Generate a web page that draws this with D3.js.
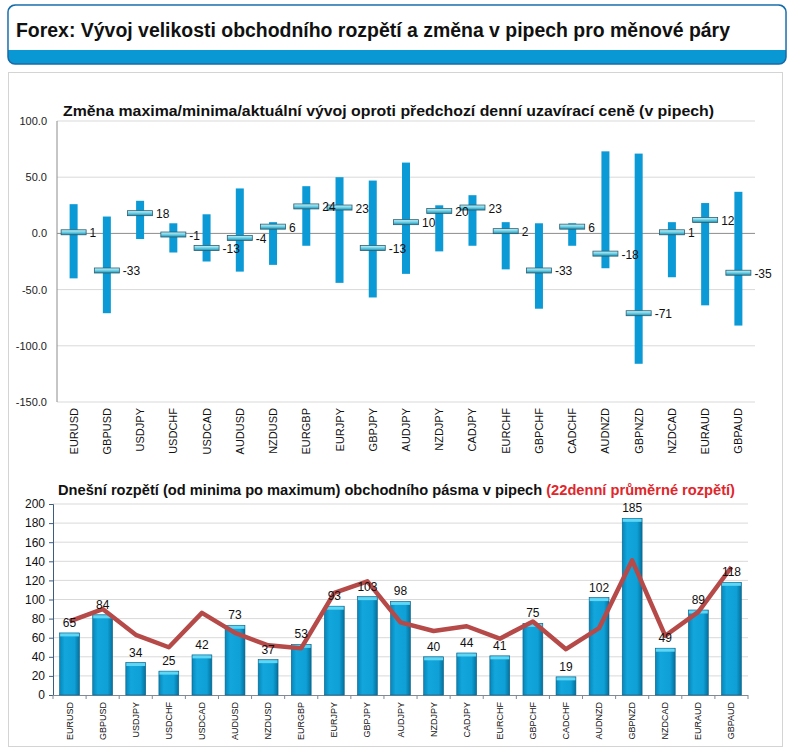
<!DOCTYPE html>
<html>
<head>
<meta charset="utf-8">
<script src="https://cdn.jsdelivr.net/npm/d3@7"></script>
<style>
  body { margin: 0; background: #fff; }
  svg { display: block; font-family: "Liberation Sans", Arial, sans-serif; }
</style>
</head>
<body>
<svg id="chart" width="796" height="749"></svg>
<script>
const pairs = ["EURUSD","GBPUSD","USDJPY","USDCHF","USDCAD","AUDUSD","NZDUSD","EURGBP","EURJPY","GBPJPY","AUDJPY","NZDJPY","CADJPY","EURCHF","GBPCHF","CADCHF","AUDNZD","GBPNZD","NZDCAD","EURAUD","GBPAUD"];

// top chart: change vs previous close (pips)
const maxChange = [26, 15, 29, 9, 17, 40, 10, 42, 50, 47, 63, 25, 34, 10, 9, 9, 73, 71, 10, 27, 37];
const minChange = [-40, -71, -5, -17, -25, -34, -28, -11, -44, -57, -36, -16, -11, -32, -67, -11, -31, -116, -39, -64, -82];
const curChange = [1, -33, 18, -1, -13, -4, 6, 24, 23, -13, 10, 20, 23, 2, -33, 6, -18, -71, 1, 12, -35];
const topTicks = [100, 50, 0, -50, -100, -150];

// bottom chart: today's range and 22-day average range
const todayRange = [65, 84, 34, 25, 42, 73, 37, 53, 93, 103, 98, 40, 44, 41, 75, 19, 102, 185, 49, 89, 118];
const avgRange = [77, 90, 63, 50, 86, 65, 52, 49, 107, 119, 76, 67, 72, 59, 77, 48, 70, 141, 62, 87, 134];
const bottomTicks = [0, 20, 40, 60, 80, 100, 120, 140, 160, 180, 200];

const svg = d3.select("#chart");
const defs = svg.append("defs");

const mg = defs.append("linearGradient").attr("id", "markerGrad").attr("x1", 0).attr("y1", 0).attr("x2", 0).attr("y2", 1);
mg.append("stop").attr("offset", "0%").attr("stop-color", "#c8f4fa");
mg.append("stop").attr("offset", "50%").attr("stop-color", "#6fd0e6");
mg.append("stop").attr("offset", "100%").attr("stop-color", "#1e8fb0");

const bg = defs.append("linearGradient").attr("id", "barGrad").attr("x1", 0).attr("y1", 0).attr("x2", 1).attr("y2", 0);
bg.append("stop").attr("offset", "0%").attr("stop-color", "#0786b8");
bg.append("stop").attr("offset", "25%").attr("stop-color", "#12a6dc");
bg.append("stop").attr("offset", "75%").attr("stop-color", "#0ea0d6");
bg.append("stop").attr("offset", "100%").attr("stop-color", "#05709c");

// header box
svg.append("rect").attr("x", 8).attr("y", 5).attr("width", 778).attr("height", 59)
  .attr("rx", 7).attr("fill", "#0998d3").attr("stroke", "#1b6aa6").attr("stroke-width", 1.5);
svg.append("path").attr("d", "M8.75,50 V12 a7,7 0 0 1 7,-6.25 H778.25 a7,7 0 0 1 7,6.25 V50 Z").attr("fill", "#fff");
svg.append("text").attr("x", 16).attr("y", 37)
  .attr("font-size", 20).attr("font-weight", "bold").attr("fill", "#111")
  .attr("textLength", 714).attr("lengthAdjust", "spacingAndGlyphs")
  .text("Forex: Vývoj velikosti obchodního rozpětí a změna v pipech pro měnové páry");

// content panel
svg.append("rect").attr("x", 8.5).attr("y", 72.5).attr("width", 774).attr("height", 674)
  .attr("fill", "#fff").attr("stroke", "#d4d4d4");

// ---------- top chart ----------
const x1 = d3.scaleBand().domain(pairs).range([57, 755]);
const y1 = d3.scaleLinear().domain([-150, 100]).range([402, 121]);

const g1 = svg.append("g");
g1.selectAll("line.grid").data(topTicks).enter().append("line")
  .attr("x1", 57).attr("x2", 755)
  .attr("y1", d => y1(d)).attr("y2", d => y1(d))
  .attr("stroke", d => d === 0 ? "#8c8c8c" : "#d9d9d9");
g1.append("line").attr("x1", 57).attr("x2", 57).attr("y1", y1(100)).attr("y2", y1(-150)).attr("stroke", "#8c8c8c");
g1.selectAll("text.tick").data(topTicks).enter().append("text")
  .attr("x", 47).attr("y", d => y1(d) + 4).attr("text-anchor", "end")
  .attr("font-size", 11).attr("fill", "#222").text(d => d.toFixed(1));

g1.selectAll("rect.range").data(pairs).enter().append("rect")
  .attr("x", d => x1(d) + x1.bandwidth() / 2 - 4).attr("width", 8)
  .attr("y", (d, i) => y1(maxChange[i]))
  .attr("height", (d, i) => y1(minChange[i]) - y1(maxChange[i]))
  .attr("fill", "#0b9ad6");

g1.selectAll("rect.cur").data(pairs).enter().append("rect")
  .attr("x", d => x1(d) + x1.bandwidth() / 2 - 12.5).attr("width", 25)
  .attr("y", (d, i) => y1(curChange[i]) - 2.5).attr("height", 5)
  .attr("fill", "url(#markerGrad)").attr("stroke", "#2b5e70").attr("stroke-width", 0.8);

g1.selectAll("text.cur").data(pairs).enter().append("text")
  .attr("x", d => x1(d) + x1.bandwidth() / 2 + 16)
  .attr("y", (d, i) => y1(curChange[i]) + 5)
  .attr("font-size", 12).attr("fill", "#111")
  .text((d, i) => curChange[i]);

g1.selectAll("text.xl").data(pairs).enter().append("text")
  .attr("transform", d => `translate(${x1(d) + x1.bandwidth() / 2 + 4},408) rotate(-90)`)
  .attr("text-anchor", "end").attr("font-size", 11).attr("fill", "#111").text(d => d);

svg.append("text").attr("x", 63).attr("y", 116)
  .attr("font-size", 15).attr("font-weight", "bold").attr("fill", "#111")
  .attr("textLength", 651).attr("lengthAdjust", "spacingAndGlyphs")
  .text("Změna maxima/minima/aktuální vývoj oproti předchozí denní uzavírací ceně (v pipech)");

// ---------- bottom chart ----------
const x2 = d3.scaleBand().domain(pairs).range([53, 748]).paddingInner(0.4).paddingOuter(0.2);
const x2c = d => x2(d) + x2.bandwidth() / 2;
const y2 = d3.scaleLinear().domain([0, 200]).range([695, 504]);

const g2 = svg.append("g");
g2.selectAll("line.grid").data(bottomTicks.slice(1)).enter().append("line")
  .attr("x1", 53).attr("x2", 748)
  .attr("y1", d => y2(d)).attr("y2", d => y2(d))
  .attr("stroke", "#d9d9d9");

const yAxis2 = d3.axisLeft(y2).tickValues(bottomTicks).tickSize(4).tickPadding(4);
const ya = g2.append("g").attr("transform", "translate(53,0)").call(yAxis2);
ya.select(".domain").attr("stroke", "#3e5d7e");
ya.selectAll(".tick line").attr("stroke", "#3e5d7e");
ya.selectAll(".tick text").attr("font-size", 12).attr("fill", "#111").attr("font-family", "Liberation Sans, Arial, sans-serif");

// x axis line with tick marks between categories
const bandStep = (748 - 53) / pairs.length;
g2.append("line").attr("x1", 53).attr("x2", 748).attr("y1", 695.5).attr("y2", 695.5).attr("stroke", "#7f8a96");
g2.selectAll("line.xt").data(d3.range(pairs.length + 1)).enter().append("line")
  .attr("x1", i => 53 + i * bandStep).attr("x2", i => 53 + i * bandStep)
  .attr("y1", 695).attr("y2", 699).attr("stroke", "#7f8a96");

g2.selectAll("rect.bar").data(pairs).enter().append("rect")
  .attr("x", d => x2(d)).attr("width", x2.bandwidth())
  .attr("y", (d, i) => y2(todayRange[i]))
  .attr("height", (d, i) => y2(0) - y2(todayRange[i]))
  .attr("fill", "url(#barGrad)").attr("stroke", "#0a5f86").attr("stroke-width", 0.6);
g2.selectAll("rect.cap").data(pairs).enter().append("rect")
  .attr("x", d => x2(d) + 0.5).attr("width", x2.bandwidth() - 1)
  .attr("y", (d, i) => y2(todayRange[i]) + 0.5).attr("height", 3)
  .attr("fill", "#5fd6f4");

const line = d3.line().x(d => x2c(d[0])).y(d => y2(d[1]));
g2.append("path").datum(pairs.map((p, i) => [p, avgRange[i]]))
  .attr("d", line).attr("fill", "none").attr("stroke", "#b54a48")
  .attr("stroke-width", 4.5).attr("stroke-linejoin", "round");

g2.selectAll("text.val").data(pairs).enter().append("text")
  .attr("x", d => x2c(d)).attr("y", (d, i) => y2(todayRange[i]) - 6)
  .attr("text-anchor", "middle").attr("font-size", 12).attr("fill", "#111")
  .text((d, i) => todayRange[i]);

g2.selectAll("text.xl").data(pairs).enter().append("text")
  .attr("transform", d => `translate(${x2c(d) + 3},702) rotate(-90)`)
  .attr("text-anchor", "end").attr("font-size", 9).attr("fill", "#111").text(d => d);

const t2 = svg.append("text").attr("x", 58).attr("y", 495)
  .attr("font-size", 15).attr("font-weight", "bold").attr("fill", "#111")
  .attr("textLength", 677).attr("lengthAdjust", "spacingAndGlyphs");
t2.append("tspan").text("Dnešní rozpětí (od minima po maximum) obchodního pásma v pipech ");
t2.append("tspan").attr("fill", "#e0262b").text("(22denní průměrné rozpětí)");
</script>
</body>
</html>
